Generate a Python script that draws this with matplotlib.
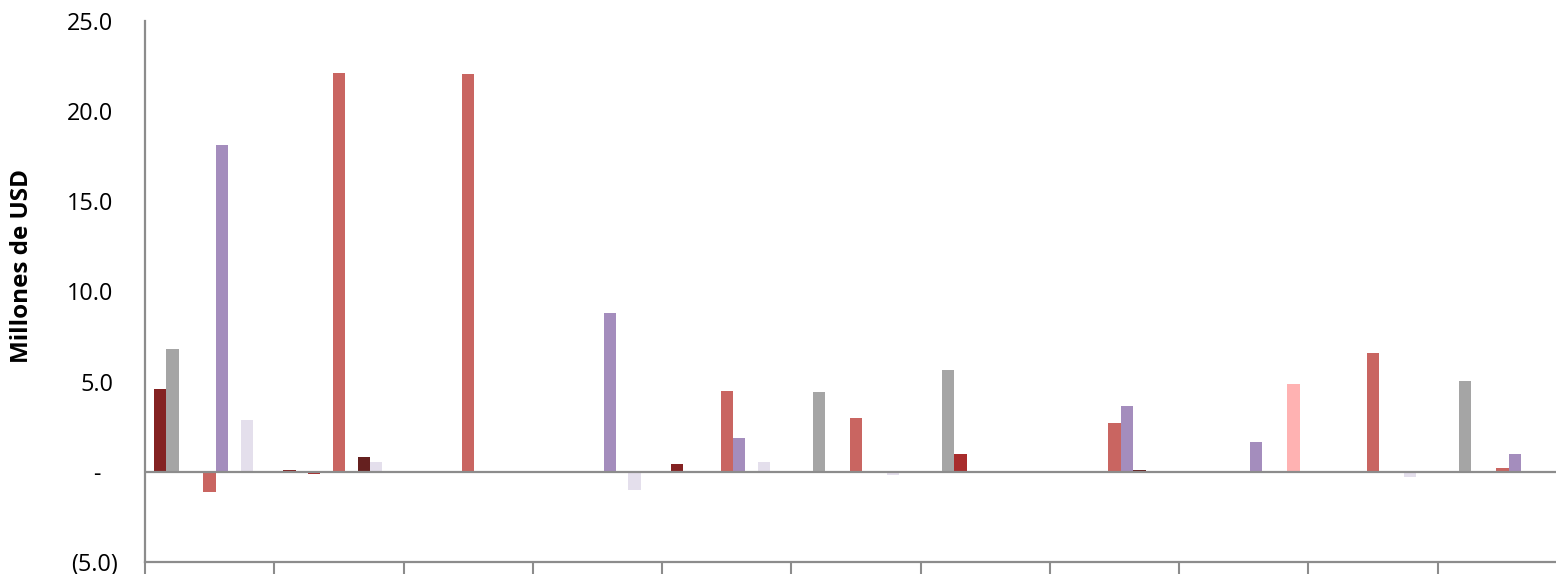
import matplotlib
matplotlib.use("Agg")
import matplotlib.pyplot as plt
import matplotlib.transforms as mtransforms
import numpy as np

# 11 categories (labels are cut off in the reference), 9 series per category
n_cats = 11
series_colors = [
    "#842222",  # dark red
    "#A5A5A5",  # gray
    "#A82C2C",  # red
    "#D0D0D0",  # (no visible bars)
    "#C96561",  # salmon
    "#A48DBD",  # purple
    "#65201F",  # dark brown
    "#E4DFEC",  # lavender
    "#FFB2B2",  # pink
]

s0 = [4.6, 0.1, 0.0, 0.0, 0.45, 0.0, 0.0, 0.0, 0.0, 0.0, 0.0]
s1 = [6.8, 0.0, 0.0, 0.0, 0.0, 4.45, 5.65, 0.0, 0.0, 0.0, 5.05]
s2 = [0.0, -0.1, 0.0, 0.0, 0.0, 0.0, 1.0, 0.0, 0.0, 0.0, 0.0]
s3 = [0.0, 0.0, 0.0, 0.0, 0.0, 0.0, 0.0, 0.0, 0.0, 0.0, 0.0]
s4 = [-1.1, 22.1, 22.05, 0.0, 4.5, 3.0, 0.0, 2.7, 0.0, 6.6, 0.2]
s5 = [18.1, 0.0, 0.0, 8.8, 1.85, 0.0, 0.0, 3.65, 1.65, 0.0, 1.0]
s6 = [0.0, 0.85, 0.0, 0.0, 0.0, 0.0, 0.0, 0.1, 0.0, 0.0, 0.0]
s7 = [2.9, 0.55, 0.0, -1.0, 0.55, -0.15, 0.0, 0.0, 0.0, -0.3, 0.0]
s8 = [0.05, 0.0, 0.0, 0.0, 0.0, 0.0, 0.0, 0.0, 4.85, 0.0, 0.0]
series = [s0, s1, s2, s3, s4, s5, s6, s7, s8]

y_ticks = [-5, 0, 5, 10, 15, 20, 25]
y_tick_labels = ["(5.0)", "-", "5.0", "10.0", "15.0", "20.0", "25.0"]

plt.rcParams["font.family"] = ["Open Sans", "DejaVu Sans"]

W, H = 1556, 574
fig = plt.figure(figsize=(W / 100, H / 100), dpi=100, facecolor="white")
# right edge of the plot area is cut off by the image border
ax = fig.add_axes([145 / W, 12 / H, (1567 - 145) / W, (562 - 21) / H])

axis_gray = "#8C8C8C"
x = np.arange(n_cats)
width = 1 / (9 + 1.43)
for k, (vals, col) in enumerate(zip(series, series_colors)):
    ax.bar(x + (k - 4) * width, vals, width, color=col, zorder=3)

ax.axhline(0, color=axis_gray, lw=1.6, zorder=4)

ax.set_xlim(-0.5, n_cats - 0.5)
ax.set_ylim(-5, 25)
ax.set_xticks(np.arange(n_cats + 1) - 0.5)
ax.set_xticklabels([])
ax.tick_params(axis="x", direction="out", length=9, width=1.5, color=axis_gray)

ax.set_yticks(y_ticks, y_tick_labels)
ax.tick_params(axis="y", length=0, pad=23, labelsize=16.8)
offsets = {"(5.0)": 5, "-": -13}
for lab in ax.get_yticklabels():
    dx = offsets.get(lab.get_text(), 0)
    if dx:
        lab.set_transform(lab.get_transform() + mtransforms.ScaledTranslation(dx / 100, 0, fig.dpi_scale_trans))

for side in ["top", "right"]:
    ax.spines[side].set_visible(False)
for side in ["left", "bottom"]:
    ax.spines[side].set_color(axis_gray)
    ax.spines[side].set_linewidth(1.6)

fig.text(22 / W, 1 - 266 / H, "Millones de USD", rotation=90, ha="center", va="center",
         fontsize=17.5, fontweight="bold")

fig.savefig("out.png", dpi=100, facecolor="white")
